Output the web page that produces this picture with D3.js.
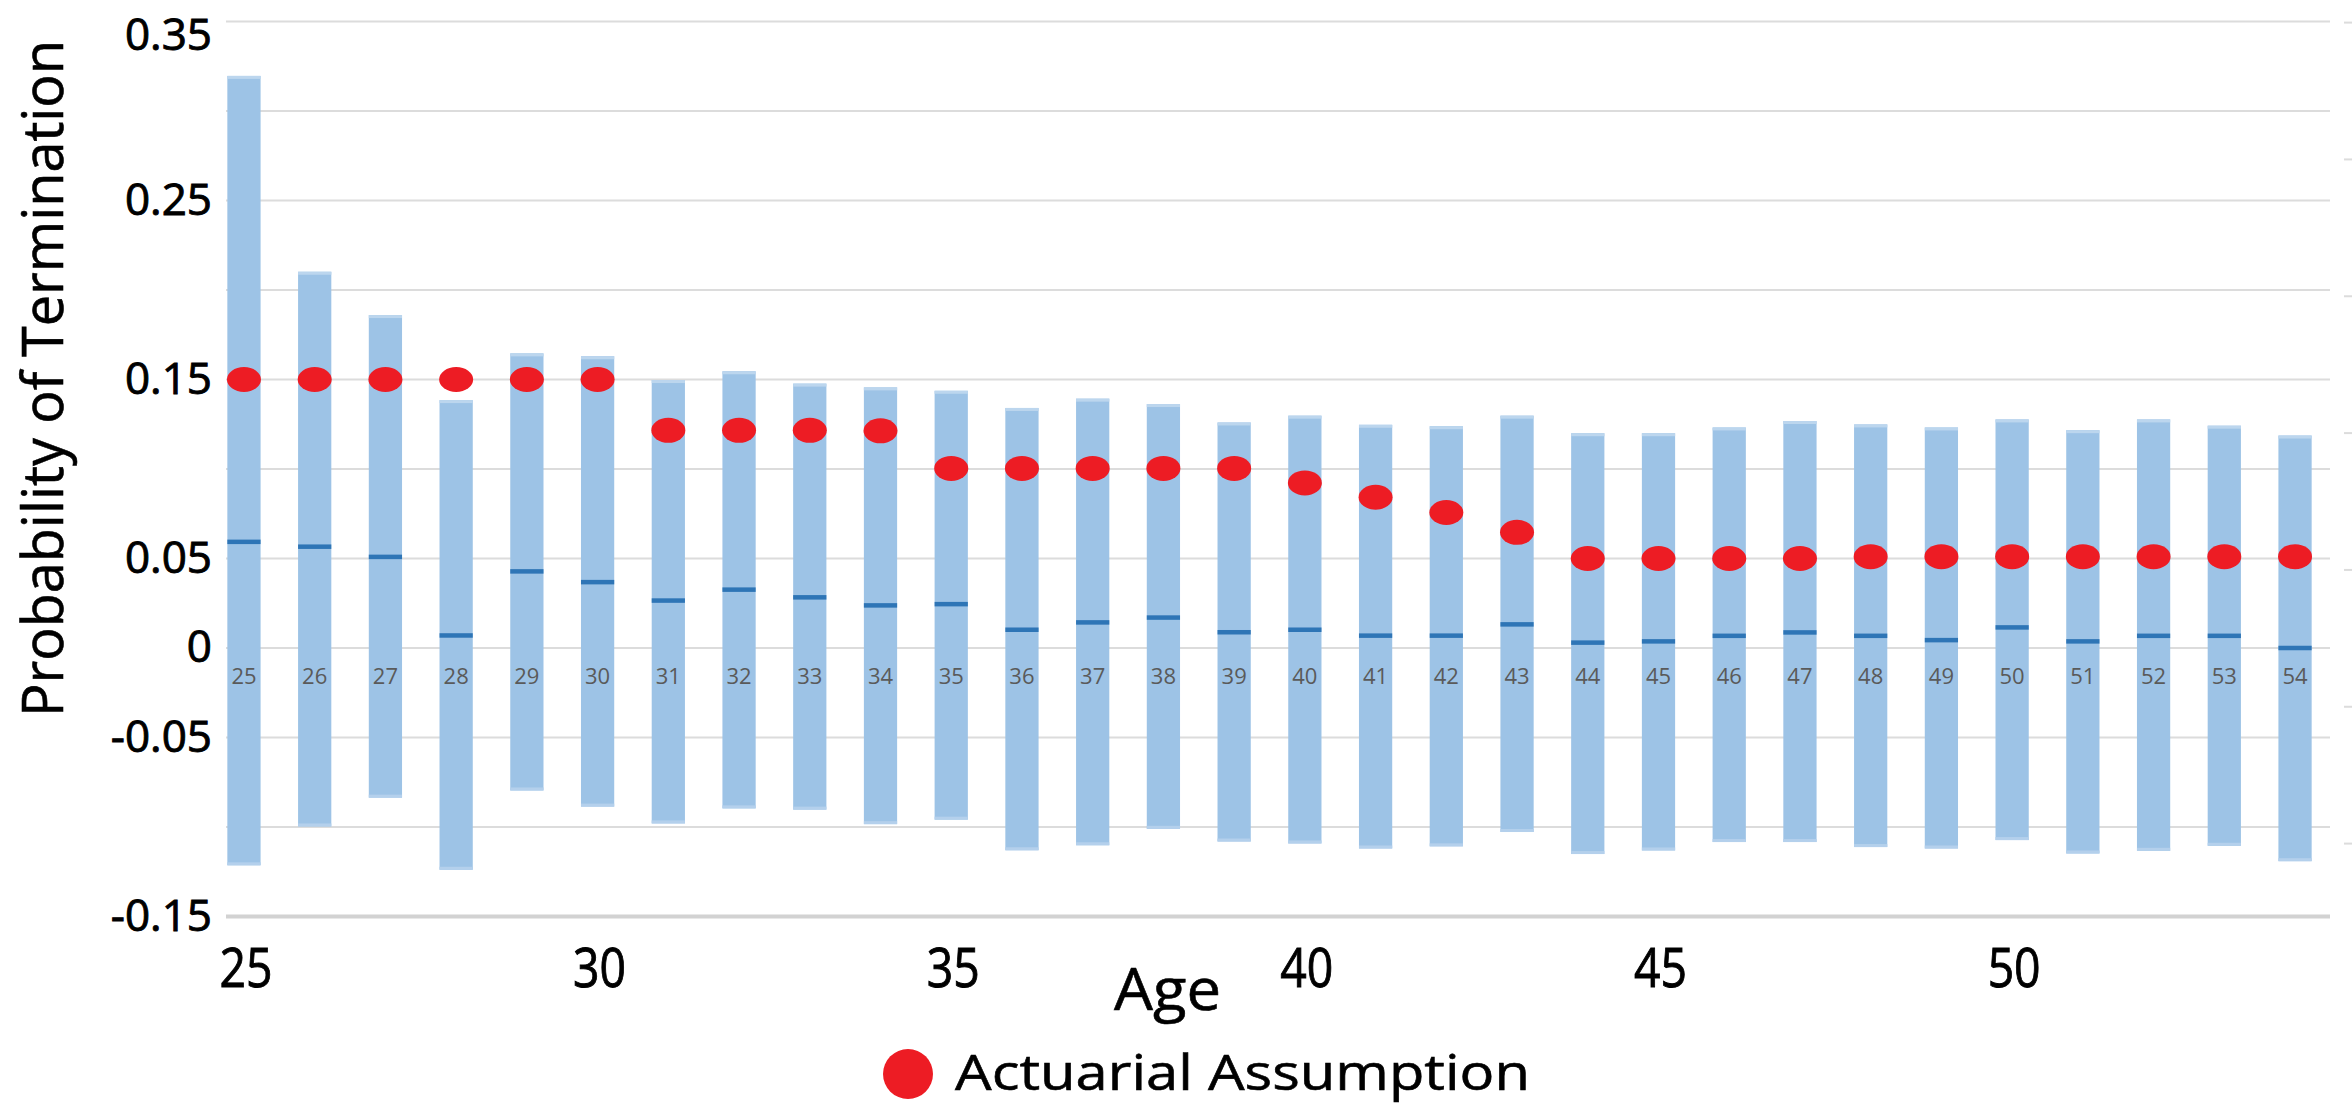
<!DOCTYPE html>
<html>
<head>
<meta charset="utf-8">
<script src="https://cdn.jsdelivr.net/npm/d3@7"></script>
<style>
  html, body { margin: 0; padding: 0; background: #ffffff; }
  svg { display: block; }
  text { font-family: "Open Sans", "Noto Sans", sans-serif; }
</style>
</head>
<body>
<svg id="chart"></svg>
<script>
// ---------------- data ----------------
const ages = [25,26,27,28,29,30,31,32,33,34,35,36,37,38,39,40,41,42,43,44,45,46,47,48,49,50,51,52,53,54];
const upperBound = [0.3196,0.2102,0.186,0.1385,0.1646,0.163,0.1497,0.1546,0.1477,0.1456,
                    0.1437,0.1341,0.1393,0.1363,0.126,0.1298,0.1247,0.1239,0.1298,0.12,
                    0.12,0.1232,0.1268,0.1249,0.1232,0.1277,0.1217,0.1277,0.1242,0.1187];
const lowerBound = [-0.1214,-0.0997,-0.0836,-0.1239,-0.0796,-0.0886,-0.098,-0.0896,-0.0903,-0.0984,
                    -0.0959,-0.113,-0.1102,-0.101,-0.1081,-0.1092,-0.112,-0.1108,-0.1028,-0.1151,
                    -0.1131,-0.1084,-0.1084,-0.1112,-0.112,-0.1073,-0.1148,-0.1133,-0.1105,-0.1191];
const meanEstimate = [0.0593,0.0566,0.0509,0.007,0.0428,0.0368,0.0265,0.0326,0.0283,0.0238,
                      0.0245,0.0102,0.0143,0.017,0.0088,0.0102,0.0069,0.0069,0.0132,0.003,
                      0.0037,0.0068,0.0087,0.0068,0.0044,0.0115,0.0037,0.0068,0.0068,0.0];
const actuarialAssumption = [0.15,0.15,0.15,0.15,0.15,0.15,0.1216,0.1216,0.1216,0.1213,
                             0.1003,0.1003,0.1003,0.1003,0.1003,0.0922,0.0842,0.0757,0.0646,0.05,
                             0.05,0.05,0.05,0.051,0.051,0.051,0.051,0.051,0.051,0.051];
const gridValues = [-0.15,-0.1,-0.05,0,0.05,0.1,0.15,0.2,0.25,0.3,0.35];
const yTickLabels = [0.35,0.25,0.15,0.05,0,-0.05,-0.15];
const xTickLabels = [25,30,35,40,45,50];
const yTitle = "Probability of Termination";
const xTitle = "Age";
const legendLabel = "Actuarial Assumption";

// ---------------- layout ----------------
const W = 2352, H = 1105;
const plotLeft = 226, plotRight = 2330;
const svg = d3.select("#chart").attr("width", W).attr("height", H);

const x = d3.scaleBand().domain(ages).range([208.6, 2330.4]).paddingInner(0.53).paddingOuter(0.265);
const y = d3.scaleLinear().domain([-0.15, 0.35]).range([916.5, 21.5]);
const bw = x.bandwidth();
const cx = a => x(a) + bw / 2;

const rows = ages.map((a, i) => ({
  age: a, hi: upperBound[i], lo: lowerBound[i], mean: meanEstimate[i], act: actuarialAssumption[i]
}));

// gridlines
svg.append("g").selectAll("line").data(gridValues).join("line")
  .attr("x1", plotLeft).attr("x2", plotRight)
  .attr("y1", d => y(d)).attr("y2", d => y(d))
  .attr("stroke", d => d === -0.15 ? "#d2d2d2" : "#dcdcdc")
  .attr("stroke-width", d => d === -0.15 ? 4 : 2);

// stray short rules at the right edge of the picture
const edge = d3.scaleLinear().domain([0, 6]).range([22.6, 843.6]);
svg.append("g").selectAll("line").data(d3.range(7)).join("line")
  .attr("x1", 2344).attr("x2", W)
  .attr("y1", d => edge(d)).attr("y2", d => edge(d))
  .attr("stroke", "#dcdcdc").attr("stroke-width", 2);

// range bars
const bars = svg.append("g");
bars.selectAll("rect.bar").data(rows).join("rect").attr("class", "bar")
  .attr("x", d => x(d.age)).attr("width", bw)
  .attr("y", d => y(d.hi)).attr("height", d => y(d.lo) - y(d.hi))
  .attr("fill", "#9dc3e6");
bars.selectAll("rect.cap").data(rows).join("rect").attr("class", "cap")
  .attr("x", d => x(d.age)).attr("width", bw)
  .attr("y", d => y(d.hi)).attr("height", 3)
  .attr("fill", "#bcd6ee");
bars.selectAll("rect.foot").data(rows).join("rect").attr("class", "foot")
  .attr("x", d => x(d.age)).attr("width", bw)
  .attr("y", d => y(d.lo) - 3).attr("height", 3)
  .attr("fill", "#b4d0ec");

// mean ticks
svg.append("g").selectAll("rect").data(rows).join("rect")
  .attr("x", d => x(d.age)).attr("width", bw)
  .attr("y", d => y(d.mean) - 2.25).attr("height", 4.5)
  .attr("fill", "#2e75b6");

// category labels inside bars
svg.append("g").selectAll("text").data(rows).join("text")
  .attr("x", d => cx(d.age)).attr("y", y(0) + 36)
  .attr("text-anchor", "middle")
  .attr("font-size", 22)
  .attr("fill", "#5a5a5a")
  .text(d => d.age);

// actuarial assumption markers
svg.append("g").selectAll("ellipse").data(rows).join("ellipse")
  .attr("cx", d => cx(d.age)).attr("cy", d => y(d.act))
  .attr("rx", 17).attr("ry", 12.5)
  .attr("fill", "#ed1c24");

// y axis labels (kept inside the picture at the top)
const yAxis = d3.axisLeft(y).tickValues(yTickLabels).tickSize(0).tickPadding(0)
  .tickFormat(d => String(d));
const yAxisG = svg.append("g").attr("transform", "translate(212,0)").call(yAxis);
yAxisG.select(".domain").remove();
yAxisG.selectAll(".tick").attr("transform", d => `translate(0,${Math.max(y(d), 36)})`);
yAxisG.selectAll("text")
  .attr("font-family", "Open Sans, Noto Sans, sans-serif")
  .attr("font-size", 44).attr("fill", "#000")
  .attr("stroke", "#000").attr("stroke-width", 0.9);

// x axis labels (condensed)
svg.append("g").selectAll("text").data(xTickLabels).join("text")
  .attr("x", d => cx(d) + 2).attr("y", 987)
  .attr("text-anchor", "middle")
  .attr("font-size", 54)
  .attr("textLength", 53).attr("lengthAdjust", "spacingAndGlyphs")
  .attr("fill", "#000").attr("stroke", "#000").attr("stroke-width", 0.9)
  .text(d => d);

// axis titles
svg.append("text")
  .attr("transform", "translate(63,378.5) rotate(-90)")
  .attr("text-anchor", "middle")
  .attr("font-size", 57)
  .attr("textLength", 677).attr("lengthAdjust", "spacingAndGlyphs")
  .attr("fill", "#000").attr("stroke", "#000").attr("stroke-width", 0.6)
  .text(yTitle);

svg.append("text")
  .attr("x", 1167.5).attr("y", 1010)
  .attr("text-anchor", "middle")
  .attr("font-size", 58)
  .attr("textLength", 107).attr("lengthAdjust", "spacingAndGlyphs")
  .attr("fill", "#000").attr("stroke", "#000").attr("stroke-width", 0.6)
  .text(xTitle);

// legend
svg.append("circle").attr("cx", 908).attr("cy", 1074).attr("r", 25).attr("fill", "#ed1c24");
svg.append("text")
  .attr("x", 955).attr("y", 1090)
  .attr("font-size", 50)
  .attr("textLength", 575).attr("lengthAdjust", "spacingAndGlyphs")
  .attr("fill", "#000").attr("stroke", "#000").attr("stroke-width", 0.6)
  .text(legendLabel);
</script>
</body>
</html>
